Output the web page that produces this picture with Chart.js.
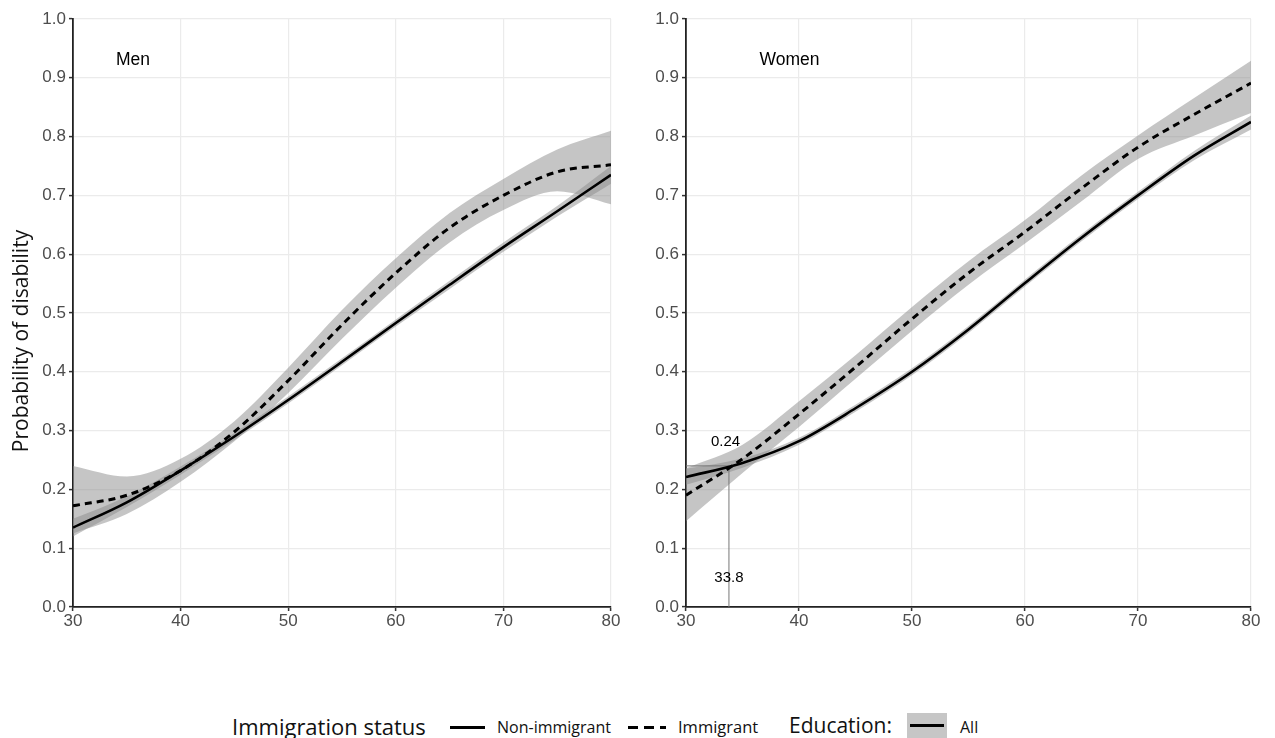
<!DOCTYPE html>
<html>
<head>
<meta charset="utf-8">
<script src="https://cdn.jsdelivr.net/npm/chart.js@4.4.0/dist/chart.umd.min.js"></script>
<style>
  html,body{margin:0;padding:0;background:#fff;width:1275px;height:738px;overflow:hidden;position:relative;font-family:"Liberation Sans",Arial,sans-serif;}
  canvas{position:absolute;top:0;}
  .lg{position:absolute;white-space:nowrap;color:#111;font-family:"Open Sans",sans-serif;line-height:1;}
</style>
</head>
<body>
<canvas id="men" width="625" height="645" style="left:0"></canvas>
<canvas id="women" width="625" height="645" style="left:640px"></canvas>

<div class="lg" style="left:232px;top:715px;font-size:22px;">Immigration status</div>
<div style="position:absolute;left:450px;top:726px;width:35px;height:3px;background:#000"></div>
<div class="lg" style="left:497px;top:719px;font-size:16px;">Non-immigrant</div>
<div style="position:absolute;left:628px;top:726px;width:38px;height:3px;background:repeating-linear-gradient(to right,#000 0,#000 10px,transparent 10px,transparent 16px)"></div>
<div class="lg" style="left:678px;top:719px;font-size:16.5px;">Immigrant</div>
<div class="lg" style="left:789px;top:715px;font-size:21px;">Education:</div>
<div style="position:absolute;left:907px;top:713px;width:40px;height:25px;background:#c6c6c6"></div>
<div style="position:absolute;left:910px;top:724px;width:34px;height:3px;background:#000"></div>
<div class="lg" style="left:960px;top:719px;font-size:16px;">All</div>

<script>
// ---- data ----
const ages = [30, 35, 40, 45, 50, 55, 60, 65, 70, 75, 80];
const xTicks = [30, 40, 50, 60, 70, 80];
const yTicks = [0, 0.1, 0.2, 0.3, 0.4, 0.5, 0.6, 0.7, 0.8, 0.9, 1.0];

const menNon   = [0.135, 0.178, 0.232, 0.290, 0.352, 0.417, 0.483, 0.548, 0.612, 0.673, 0.735];
const menNonLo = [0.120, 0.170, 0.225, 0.284, 0.346, 0.411, 0.477, 0.541, 0.604, 0.664, 0.720];
const menNonHi = [0.150, 0.188, 0.239, 0.296, 0.358, 0.423, 0.489, 0.555, 0.620, 0.682, 0.750];
const menImm   = [0.172, 0.190, 0.232, 0.298, 0.385, 0.480, 0.568, 0.645, 0.700, 0.740, 0.752];
const menImmLo = [0.125, 0.158, 0.213, 0.282, 0.364, 0.456, 0.543, 0.620, 0.675, 0.707, 0.685];
const menImmHi = [0.240, 0.222, 0.252, 0.316, 0.407, 0.505, 0.593, 0.670, 0.728, 0.778, 0.810];

const womenNon   = [0.221, 0.245, 0.282, 0.338, 0.400, 0.472, 0.551, 0.628, 0.700, 0.768, 0.825];
const womenNonLo = [0.208, 0.237, 0.276, 0.332, 0.394, 0.466, 0.545, 0.622, 0.694, 0.760, 0.812];
const womenNonHi = [0.235, 0.253, 0.288, 0.344, 0.406, 0.478, 0.557, 0.634, 0.706, 0.776, 0.836];
const womenImm   = [0.190, 0.252, 0.328, 0.408, 0.490, 0.568, 0.638, 0.712, 0.782, 0.838, 0.891];
const womenImmLo = [0.146, 0.228, 0.306, 0.388, 0.470, 0.548, 0.618, 0.690, 0.762, 0.802, 0.840];
const womenImmHi = [0.236, 0.276, 0.350, 0.428, 0.510, 0.588, 0.658, 0.734, 0.802, 0.866, 0.929];

const crossAge = 33.8;
const crossProb = 0.24;
const crossAgeLabel = "33.8";
const crossProbLabel = "0.24";
const yTitle = "Probability of disability";

// ---- helpers ----
const pts = (ys) => ages.map((a, i) => ({x: a, y: ys[i]}));
const BAND = 'rgba(140,140,140,0.5)';
const TICKFONT = '"Liberation Sans", Arial, sans-serif';

function bandSets(lo, hi) {
  return [
    {data: pts(hi), borderWidth: 0, pointRadius: 0, fill: false, cubicInterpolationMode: 'monotone'},
    {data: pts(lo), borderWidth: 0, pointRadius: 0, fill: '-1', backgroundColor: BAND, cubicInterpolationMode: 'monotone'}
  ];
}
function lineSet(vals, dashed) {
  return {data: pts(vals), borderColor: '#000', borderWidth: dashed ? 3 : 2.6, borderDash: dashed ? [7, 5] : [],
          pointRadius: 0, fill: false, cubicInterpolationMode: 'monotone'};
}

const textPlugin = {
  id: 'texts',
  afterDatasetsDraw(chart, args, opts) {
    const {ctx} = chart;
    const xs = chart.scales.x, ys = chart.scales.y;
    ctx.save();
    ctx.fillStyle = '#000';
    ctx.textAlign = 'left';
    ctx.textBaseline = 'middle';
    ctx.font = '17.5px ' + TICKFONT;
    ctx.fillText(opts.panel, xs.getPixelForValue(opts.panelX), ys.getPixelForValue(0.93));
    if (opts.annot) {
      ctx.font = '15px ' + TICKFONT;
      ctx.textAlign = 'center';
      ctx.fillText(crossProbLabel, xs.getPixelForValue(crossAge - 0.3), ys.getPixelForValue(0.281));
      ctx.fillText(crossAgeLabel, xs.getPixelForValue(crossAge), ys.getPixelForValue(0.05));
    }
    if (opts.title) {
      ctx.translate(22, (ys.top + ys.bottom) / 2 + 28);
      ctx.rotate(-Math.PI / 2);
      ctx.textAlign = 'center';
      ctx.fillStyle = '#111';
      ctx.font = '21px "Open Sans", sans-serif';
      ctx.fillText(yTitle, 0, 0);
    }
    ctx.restore();
  }
};

function makeChart(id, non, nonLo, nonHi, imm, immLo, immHi, panel, panelX, annot, yWidth, showTitle) {
  const datasets = [
    ...bandSets(immLo, immHi),
    ...bandSets(nonLo, nonHi),
    lineSet(non, false),
    lineSet(imm, true)
  ];
  if (annot) {
    datasets.push({data: [{x: 30, y: crossProb}, {x: crossAge, y: crossProb}], borderColor: '#777', borderWidth: 1, pointRadius: 0, fill: false});
    datasets.push({data: [{x: crossAge, y: 0}, {x: crossAge, y: crossProb}], borderColor: '#777', borderWidth: 1, pointRadius: 0, fill: false});
  }
  return new Chart(document.getElementById(id), {
    type: 'scatter',
    data: {datasets: datasets.map(d => Object.assign({showLine: true}, d))},
    options: {
      responsive: false,
      animation: false,
      devicePixelRatio: 1,
      layout: {padding: {top: 19, right: 14, left: showTitle ? 10 : 0, bottom: 0}},
      plugins: {
        legend: {display: false},
        tooltip: {enabled: false},
        filler: {drawTime: 'beforeDatasetsDraw'},
        texts: {panel: panel, panelX: panelX, annot: annot, title: showTitle}
      },
      scales: {
        x: {
          type: 'linear', min: 30, max: 80,
          afterBuildTicks: (s) => { s.ticks = xTicks.map(v => ({value: v})); },
          afterFit: (s) => { s.height = 38; },
          grid: {color: '#ebebeb', lineWidth: 1.2, tickLength: 4, tickColor: '#333', tickWidth: 1.5},
          border: {display: true, color: '#222', width: 1.8},
          ticks: {color: '#4d4d4d', font: {size: 17, family: TICKFONT}, padding: 0, maxRotation: 0}
        },
        y: {
          type: 'linear', min: 0, max: 1,
          afterBuildTicks: (s) => { s.ticks = yTicks.map(v => ({value: v})); },
          afterFit: (s) => { s.width = yWidth; },
          grid: {color: '#ebebeb', lineWidth: 1.2, tickLength: 4, tickColor: '#333', tickWidth: 1.5},
          border: {display: true, color: '#222', width: 1.8},
          ticks: {color: '#4d4d4d', font: {size: 17, family: TICKFONT}, padding: 3,
                  callback: (v) => Number(v).toFixed(1)}
        }
      }
    },
    plugins: [textPlugin]
  });
}

makeChart('men', menNon, menNonLo, menNonHi, menImm, menImmLo, menImmHi, 'Men', 34.0, false, 63, true);
makeChart('women', womenNon, womenNonLo, womenNonHi, womenImm, womenImmLo, womenImmHi, 'Women', 36.5, true, 46, false);
</script>
</body>
</html>
